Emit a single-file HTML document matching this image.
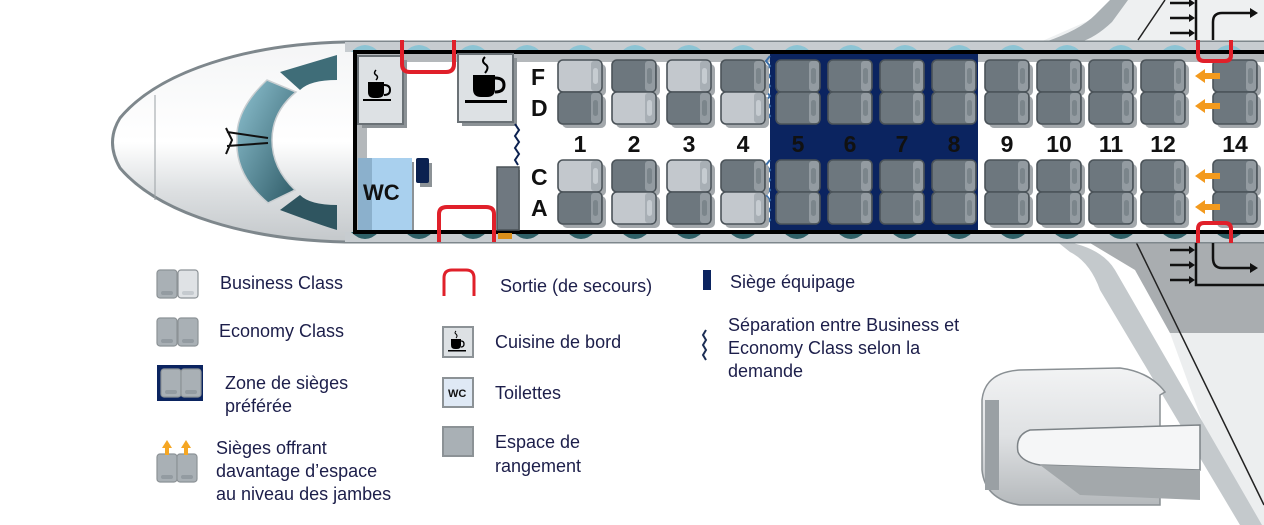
<!DOCTYPE html>
<html><head><meta charset="utf-8"><style>
html,body{margin:0;padding:0;background:#fff;width:1264px;height:525px;overflow:hidden}
svg{display:block}
.n{font-family:"Liberation Sans",sans-serif;font-weight:bold;font-size:23px;fill:#111}
.l{font-family:"Liberation Sans",sans-serif;font-size:18px;fill:#1c1e4a}
</style></head><body>
<svg id="s" width="1264" height="525" viewBox="0 0 1264 525" xmlns="http://www.w3.org/2000/svg">
<defs>
<linearGradient id="nose" x1="0" y1="0" x2="0" y2="1">
<stop offset="0" stop-color="#f4f5f6"/><stop offset="0.5" stop-color="#ffffff"/><stop offset="0.75" stop-color="#dcdfe1"/><stop offset="1" stop-color="#c4c8cb"/></linearGradient>
<linearGradient id="win" x1="0" y1="0" x2="1" y2="1">
<stop offset="0" stop-color="#8fc3d2"/><stop offset="1" stop-color="#2e5a66"/></linearGradient>
<linearGradient id="eng" x1="0" y1="0" x2="0" y2="1">
<stop offset="0" stop-color="#f2f3f4"/><stop offset="0.5" stop-color="#dfe1e3"/><stop offset="1" stop-color="#b5b9bc"/></linearGradient>
</defs>

<!-- top wing -->
<polygon points="1040,42 1090,20 1120,0 1264,0 1264,42" fill="#eef0f1"/>
<path d="M1045,42 Q1080,30 1095,15 L1110,0 L1128,0 L1112,22 Q1095,38 1080,42 Z" fill="#a9b0b4"/>
<line x1="1138" y1="40" x2="1165" y2="0" stroke="#222" stroke-width="1.5"/>
<!-- bottom wing -->
<polygon points="1085,240 1264,240 1264,333 1170,333 1135,270" fill="#a9adb0"/>
<polygon points="1170,333 1264,333 1264,525 1240,525" fill="#eceeef"/>
<path d="M1055,240 Q1100,245 1115,270 L1262,525 L1240,525 L1100,290 Q1090,262 1070,252 Z" fill="#c4c9cc"/>
<line x1="1135" y1="240" x2="1264" y2="505" stroke="#222" stroke-width="1.5"/>
<!-- engine -->
<path d="M1160,395 L1160,505 L1020,505 Q985,500 982,470 L982,400 Q985,372 1020,370 L1120,368 Q1150,372 1165,392 Z" fill="url(#eng)" stroke="#8a9094" stroke-width="1.5"/>
<rect x="985" y="400" width="14" height="90" fill="#9aa0a4"/>
<path d="M1030,430 Q1015,435 1018,452 Q1022,462 1040,465 L1200,470 L1200,425 Z" fill="#f5f6f7" stroke="#7d8387" stroke-width="1.5"/>
<polygon points="1040,465 1200,470 1200,500 1080,495" fill="#a3a8ab"/>

<!-- fuselage -->
<path d="M345,42 L1264,42 L1264,242 L345,242 C250,240 160,215 120,168 Q105,142 120,118 C160,70 250,44 345,42 Z" fill="url(#nose)" stroke="#7e878c" stroke-width="3"/>
<line x1="155" y1="95" x2="155" y2="200" stroke="#9aa0a4" stroke-width="1"/>
<!-- cockpit windows -->
<path d="M267,80 Q235,110 237,140 Q235,175 268,203 L295,190 Q272,168 272,140 Q272,112 296,92 Z" fill="url(#win)" stroke="#c9ced1" stroke-width="1.5"/>
<path d="M280,72 Q320,60 337,55 L337,80 Q310,80 300,90 Z" fill="#3f6d78"/>
<path d="M280,210 Q320,225 337,230 L337,205 Q310,205 300,195 Z" fill="#2f5560"/>
<path d="M227,132 L268,138 M227,146 L268,143 M226,128 L232,140 L226,154" stroke="#111" stroke-width="2" fill="none"/>

<!-- window strips -->
<rect x="345" y="42" width="919" height="10" fill="#c7ccd0"/>
<rect x="345" y="232" width="919" height="10" fill="#c7ccd0"/>
<g id="wins"></g>
<!-- cabin -->
<rect x="355" y="52" width="915" height="180" fill="#fff" stroke="#000" stroke-width="4"/>
<rect x="357" y="54" width="910" height="8" fill="#b4b8bb"/>
<rect x="357" y="54" width="10" height="176" fill="#b4b8bb"/>
<rect x="770" y="54" width="208" height="176" fill="#0b2460"/>

<!-- galleys -->
<rect x="362" y="60" width="45" height="68" fill="#8c9296"/>
<rect x="358" y="56" width="45" height="68" fill="#dde1e4" stroke="#6a7176" stroke-width="2"/>
<rect x="462" y="58" width="55" height="68" fill="#8c9296"/>
<rect x="458" y="54" width="55" height="68" fill="#dde1e4" stroke="#6a7176" stroke-width="2"/>
<g fill="#000">
<path d="M368,82 h16 v10 q0,6 -6,6 h-4 q-6,0 -6,-6 z"/><rect x="363" y="99" width="28" height="2"/>
<path d="M384,85 q6,0 6,5 q0,5 -6,5" stroke="#000" stroke-width="2" fill="none"/>
<path d="M376,70 q-3,3 0,5 q3,2 0,5" stroke="#000" stroke-width="1.5" fill="none"/>
<path d="M473,75 h22 v14 q0,8 -8,8 h-6 q-8,0 -8,-8 z"/><rect x="465" y="100" width="42" height="3"/>
<path d="M495,78 q9,0 9,7 q0,7 -9,7" stroke="#000" stroke-width="3" fill="none"/>
<path d="M485,57 q-4,4 0,7 q5,3 0,9" stroke="#000" stroke-width="2" fill="none"/>
</g>
<!-- WC -->
<rect x="364" y="162" width="50" height="68" fill="#8c9296"/>
<rect x="358" y="158" width="54" height="72" fill="#a9d0ee"/>
<rect x="358" y="158" width="14" height="72" fill="#8bb0cc"/>
<text x="363" y="200" style="font-family:'Liberation Sans',sans-serif;font-weight:bold;font-size:22px" fill="#111">WC</text>
<rect x="420" y="163" width="12" height="24" fill="#8c9296"/>
<rect x="416" y="158" width="13" height="25" fill="#0b2150" rx="2"/>
<!-- storage -->
<rect x="508" y="170" width="12" height="60" fill="#9aa0a4"/>
<rect x="497" y="167" width="22" height="63" fill="#6f7880" stroke="#4b5358" stroke-width="1.5"/>
<rect x="498" y="233" width="14" height="6" fill="#d98e1a"/>
<!-- zigzag separators -->
<path d="M515,124 l4,6 l-4,6 l4,6 l-4,6 l4,6 l-4,6 l3,5" stroke="#0b2150" stroke-width="2" fill="none"/>
<path d="M770,56 l-4,5 l4,5 l-4,5 l4,5 l-4,5 l4,5 l-4,5 l4,5 l-4,5 l4,5 l-4,5 l4,5 l-4,5" stroke="#3a6ea8" stroke-width="2" fill="none"/>
<path d="M770,160 l-4,5 l4,5 l-4,5 l4,5 l-4,5 l4,5 l-4,5 l4,5 l-4,5 l4,5 l-4,5 l4,5 l-4,5" stroke="#3a6ea8" stroke-width="2" fill="none"/>

<text class="n" x="531" y="85">F</text>
<text class="n" x="531" y="116">D</text>
<text class="n" x="531" y="185">C</text>
<text class="n" x="531" y="216">A</text>
<g id="seats"></g>

<!-- exits -->
<path d="M402,40 V64 Q402,72 410,72 H446 Q454,72 454,64 V40" stroke="#e0202a" stroke-width="4" fill="none"/>
<path d="M439,242 V214 Q439,207 447,207 H486 Q494,207 494,214 V242" stroke="#e0202a" stroke-width="4" fill="none"/>
<path d="M1198,40 V55 Q1198,61 1204,61 H1225 Q1231,61 1231,55 V40" stroke="#e0202a" stroke-width="4" fill="none"/>
<path d="M1198,243 V229 Q1198,223 1204,223 H1225 Q1231,223 1231,229 V243" stroke="#e0202a" stroke-width="4" fill="none"/>
<!-- door arrows -->
<g stroke="#111" stroke-width="2.5" fill="none">
<path d="M1196,0 V40 M1213,40 V22 Q1213,13 1222,13 H1250"/>
<path d="M1196,243 V285 H1264 M1213,243 V258 Q1213,268 1222,268 H1250"/>
<path d="M1170,3 H1192 M1170,18 H1192 M1170,33 H1192 M1170,250 H1192 M1170,265 H1192 M1170,280 H1192"/>
</g>
<g fill="#111">
<path d="M1250,8 l8,5 l-8,5z"/><path d="M1250,263 l8,5 l-8,5z"/>
<path d="M1189,-1 l6,4 l-6,4z"/><path d="M1189,14 l6,4 l-6,4z"/><path d="M1189,29 l6,4 l-6,4z"/>
<path d="M1189,246 l6,4 l-6,4z"/><path d="M1189,261 l6,4 l-6,4z"/><path d="M1189,276 l6,4 l-6,4z"/>
</g>
<!-- orange arrows -->
<g fill="#f39a1e" id="oa"></g>

<!-- legend -->
<g id="leg"></g>
<text class="l" x="220" y="289">Business Class</text>
<text class="l" x="219" y="337">Economy Class</text>
<text class="l" x="225" y="389">Zone de sièges</text>
<text class="l" x="225" y="412">préférée</text>
<text class="l" x="216" y="454">Sièges offrant</text>
<text class="l" x="216" y="477">davantage d’espace</text>
<text class="l" x="216" y="500">au niveau des jambes</text>
<path d="M444,296 V278 Q444,270 452,270 H466 Q474,270 474,278 V296" stroke="#e0202a" stroke-width="3" fill="none"/>
<text class="l" x="500" y="292">Sortie (de secours)</text>
<rect x="443" y="327" width="30" height="30" fill="#dde1e4" stroke="#8c9296" stroke-width="2"/>
<path d="M451,339 h10 v6 q0,4 -4,4 h-2 q-4,0 -4,-4z M448,350 h18 v1.5 h-18z" fill="#000"/>
<path d="M461,341 q3,0 3,3 q0,3 -3,3" stroke="#000" stroke-width="1.3" fill="none"/>
<path d="M456,331 q-2,2 0,3 q2,2 0,4" stroke="#000" stroke-width="1" fill="none"/>
<text class="l" x="495" y="348">Cuisine de bord</text>
<rect x="443" y="378" width="30" height="29" fill="#dfe9f5" stroke="#8c9296" stroke-width="2"/>
<text x="448" y="397" style="font-family:'Liberation Sans',sans-serif;font-weight:bold;font-size:11px" fill="#111">WC</text>
<text class="l" x="495" y="399">Toilettes</text>
<rect x="443" y="427" width="30" height="29" fill="#a9b0b5" stroke="#8c9296" stroke-width="2"/>
<text class="l" x="495" y="448">Espace de</text>
<text class="l" x="495" y="472">rangement</text>
<rect x="703" y="270" width="8" height="20" fill="#0b2460"/>
<text class="l" x="730" y="288">Siège équipage</text>
<path d="M706,330 l-3,5 l3,5 l-3,5 l3,5 l-3,5 l3,5" stroke="#1c2e55" stroke-width="2" fill="none"/>
<text class="l" x="728" y="331">Séparation entre Business et</text>
<text class="l" x="728" y="354">Economy Class selon la</text>
<text class="l" x="728" y="377">demande</text>
</svg>
<script>
var NS="http://www.w3.org/2000/svg";
function el(p,t,a){var e=document.createElementNS(NS,t);for(var k in a)e.setAttribute(k,a[k]);p.appendChild(e);return e;}
var W=document.getElementById("wins");
for(var x=365;x<1264;x+=54){el(W,"path",{d:"M"+(x-14)+",52 Q"+x+",38 "+(x+14)+",52 Z",fill:"#8cc4d4"});el(W,"path",{d:"M"+(x-14)+",232 Q"+x+",246 "+(x+14)+",232 Z",fill:"#2e5f66"});}
var S=document.getElementById("seats");
function seat(x,y,light,shadow){
 if(shadow)el(S,"rect",{x:x+4,y:y+4,width:44,height:32,rx:5,fill:"#a3a8ac"});
 el(S,"rect",{x:x,y:y,width:44,height:32,rx:5,fill:light?"#c3c8cd":"#6d777e",stroke:"#4b5359","stroke-width":1.6});
 el(S,"rect",{x:x+33,y:y+1,width:10,height:30,rx:3,fill:light?"#a8afb5":"#939ba1"});
 el(S,"rect",{x:x+35,y:y+8,width:5,height:16,rx:2.5,fill:light?"#c6ccd1":"#7b858b"});
}
var xs=[558,612,667,721,776,828,880,932,985,1037,1089,1141,1213];
var labels=["1","2","3","4","5","6","7","8","9","10","11","12","14"];
for(var i=0;i<13;i++){
 var x=xs[i],sh=!(i>=4&&i<=7);
 var b=i<4;
 seat(x,60,b&&i%2==0,sh);seat(x,92,b&&i%2==1,sh);
 seat(x,160,b&&i%2==0,sh);seat(x,192,b&&i%2==1,sh);
 var t=el(S,"text",{x:x+22,y:152,"text-anchor":"middle","class":"n"});t.textContent=labels[i];
 if(i>=4&&i<=7)t.setAttribute("fill","#fff");
}
var O=document.getElementById("oa");
[76,106,176,207].forEach(function(y){el(O,"path",{d:"M1195,"+y+" l10,-7 v4 h15 v6 h-15 v4 z"});});
var L=document.getElementById("leg");
function lseat(x,y,light){el(L,"rect",{x:x,y:y,width:20,height:28,rx:3,fill:light?"#dfe2e5":"#a9b0b5",stroke:"#8c9296","stroke-width":1.2});el(L,"rect",{x:x+4,y:y+21,width:12,height:4,rx:2,fill:light?"#c5cacf":"#939ba1"});}
lseat(157,270,false);lseat(178,270,true);
lseat(157,318,false);lseat(178,318,false);
el(L,"rect",{x:157,y:365,width:46,height:36,fill:"#0b2460"});
lseat(161,369,false);lseat(181,369,false);
lseat(157,454,false);lseat(177,454,false);
[167,186].forEach(function(x){el(L,"path",{d:"M"+(x-5)+",448 l5,-8 l5,8 h-3 v7 h-4 v-7z",fill:"#f5a623"});});
</script>
</body></html>
